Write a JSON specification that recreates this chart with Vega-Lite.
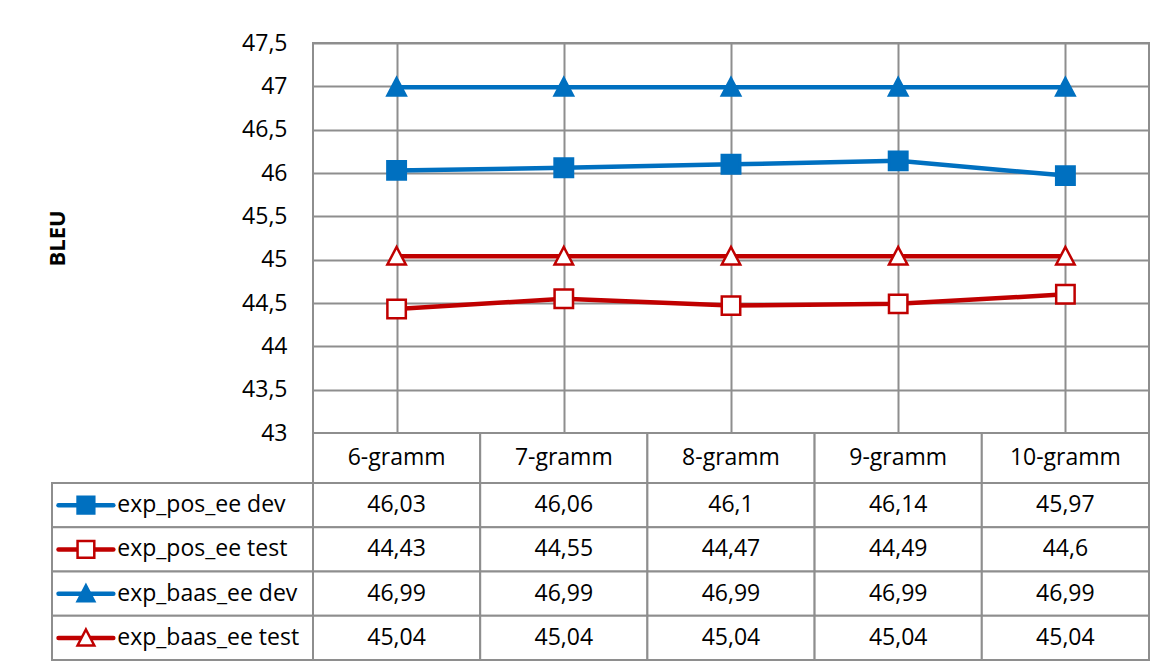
{
  "$schema": "https://vega.github.io/schema/vega-lite/v6.json",
  "padding": {"left": 45, "top": 31, "right": 10, "bottom": 5},
  "background": "white",
  "config": {
    "view": {"stroke": null},
    "locale": {"number": {"decimal": ",", "thousands": ".", "grouping": [3], "currency": ["", " €"]}},
    "text": {"font": "Open Sans", "fontSize": 23, "color": "#000000"}
  },
  "datasets": {
    "vals": [
      {"gram": "6-gramm", "series": "exp_pos_ee dev", "value": 46.03},
      {"gram": "7-gramm", "series": "exp_pos_ee dev", "value": 46.06},
      {"gram": "8-gramm", "series": "exp_pos_ee dev", "value": 46.1},
      {"gram": "9-gramm", "series": "exp_pos_ee dev", "value": 46.14},
      {"gram": "10-gramm", "series": "exp_pos_ee dev", "value": 45.97},
      {"gram": "6-gramm", "series": "exp_pos_ee test", "value": 44.43},
      {"gram": "7-gramm", "series": "exp_pos_ee test", "value": 44.55},
      {"gram": "8-gramm", "series": "exp_pos_ee test", "value": 44.47},
      {"gram": "9-gramm", "series": "exp_pos_ee test", "value": 44.49},
      {"gram": "10-gramm", "series": "exp_pos_ee test", "value": 44.6},
      {"gram": "6-gramm", "series": "exp_baas_ee dev", "value": 46.99},
      {"gram": "7-gramm", "series": "exp_baas_ee dev", "value": 46.99},
      {"gram": "8-gramm", "series": "exp_baas_ee dev", "value": 46.99},
      {"gram": "9-gramm", "series": "exp_baas_ee dev", "value": 46.99},
      {"gram": "10-gramm", "series": "exp_baas_ee dev", "value": 46.99},
      {"gram": "6-gramm", "series": "exp_baas_ee test", "value": 45.04},
      {"gram": "7-gramm", "series": "exp_baas_ee test", "value": 45.04},
      {"gram": "8-gramm", "series": "exp_baas_ee test", "value": 45.04},
      {"gram": "9-gramm", "series": "exp_baas_ee test", "value": 45.04},
      {"gram": "10-gramm", "series": "exp_baas_ee test", "value": 45.04}
    ],
    "series": [
      {"series": "exp_pos_ee dev"},
      {"series": "exp_pos_ee test"},
      {"series": "exp_baas_ee dev"},
      {"series": "exp_baas_ee test"}
    ],
    "grams": [
      {"gram": "6-gramm"}, {"gram": "7-gramm"}, {"gram": "8-gramm"}, {"gram": "9-gramm"}, {"gram": "10-gramm"}
    ]
  },
  "columns": 2,
  "spacing": 0,
  "bounds": "flush",
  "concat": [
    {
      "width": 261, "height": 390,
      "data": {"values": [{}]},
      "mark": {"type": "text"},
      "encoding": {"text": {"value": ""}}
    },
    {
      "width": 836, "height": 390,
      "view": {"stroke": "#8e8e8e", "strokeWidth": 2},
      "data": {"name": "vals"},
      "encoding": {
        "x": {"field": "gram", "type": "nominal",
              "scale": {"domain": ["6-gramm", "7-gramm", "8-gramm", "9-gramm", "10-gramm"], "paddingInner": 0, "paddingOuter": 0},
              "axis": {"bandPosition": 0, "grid": true, "gridColor": "#8e8e8e", "gridWidth": 2, "labels": false, "ticks": false, "domain": false, "title": null}},
        "y": {"field": "value", "type": "quantitative",
              "scale": {"domain": [43, 47.5], "nice": false, "zero": false},
              "axis": {"values": [43, 43.5, 44, 44.5, 45, 45.5, 46, 46.5, 47, 47.5], "format": "~g",
                       "grid": true, "gridColor": "#8e8e8e", "gridWidth": 2, "ticks": false, "domain": false,
                       "labelFont": "Open Sans", "labelFontSize": 23, "labelColor": "#000000", "labelPadding": 26,
                       "title": "BLEU", "titleFont": "Open Sans", "titleFontSize": 22, "titleFontWeight": "bold", "titleColor": "#000000", "titlePadding": 172}},
        "stroke": {"field": "series", "type": "nominal",
                   "scale": {"domain": ["exp_pos_ee dev", "exp_pos_ee test", "exp_baas_ee dev", "exp_baas_ee test"], "range": ["#0070C0", "#C00000", "#0070C0", "#C00000"]},
                   "legend": null}
      },
      "layer": [
        {"mark": {"type": "line", "strokeWidth": 4.5}, "encoding": {"order": {"value": null}}},
        {"mark": {"type": "point", "opacity": 1, "fillOpacity": 1, "strokeWidth": 2.5, "size": 340},
         "encoding": {
           "shape": {"field": "series", "type": "nominal",
                     "scale": {"domain": ["exp_pos_ee dev", "exp_pos_ee test", "exp_baas_ee dev", "exp_baas_ee test"], "range": ["square", "square", "M0,-1L1,0.9L-1,0.9Z", "M0,-1L1,0.9L-1,0.9Z"]},
                     "legend": null},
           "fill": {"field": "series", "type": "nominal",
                    "scale": {"domain": ["exp_pos_ee dev", "exp_pos_ee test", "exp_baas_ee dev", "exp_baas_ee test"], "range": ["#0070C0", "#ffffff", "#0070C0", "#ffffff"]},
                    "legend": null}
         }}
      ]
    },
    {
      "width": 261, "height": 50,
      "data": {"values": [{}]},
      "mark": {"type": "text"},
      "encoding": {"text": {"value": ""}}
    },
    {
      "width": 836, "height": 50,
      "data": {"name": "grams"},
      "encoding": {
        "x": {"field": "gram", "type": "nominal",
              "scale": {"domain": ["6-gramm", "7-gramm", "8-gramm", "9-gramm", "10-gramm"], "paddingInner": 0, "paddingOuter": 0},
              "axis": null}
      },
      "layer": [
        {"mark": {"type": "rect", "fill": "#ffffff", "stroke": "#8e8e8e", "strokeWidth": 2}},
        {"mark": {"type": "text", "font": "Open Sans", "fontSize": 23, "color": "#000000"}, "encoding": {"text": {"field": "gram"}}}
      ]
    },
    {
      "width": 261, "height": 177,
      "data": {"name": "series"},
      "encoding": {
        "y": {"field": "series", "type": "nominal",
              "scale": {"domain": ["exp_pos_ee dev", "exp_pos_ee test", "exp_baas_ee dev", "exp_baas_ee test"], "paddingInner": 0, "paddingOuter": 0},
              "axis": null}
      },
      "layer": [
        {"mark": {"type": "rect", "fill": "#ffffff", "stroke": "#8e8e8e", "strokeWidth": 2}},
        {"mark": {"type": "rule", "strokeWidth": 4.5, "strokeCap": "round"},
         "encoding": {
           "x": {"datum": 0.025, "type": "quantitative", "scale": {"domain": [0, 1], "nice": false, "zero": false}, "axis": null},
           "x2": {"datum": 0.235},
           "stroke": {"field": "series", "type": "nominal",
                      "scale": {"domain": ["exp_pos_ee dev", "exp_pos_ee test", "exp_baas_ee dev", "exp_baas_ee test"], "range": ["#0070C0", "#C00000", "#0070C0", "#C00000"]},
                      "legend": null}
         }},
        {"mark": {"type": "point", "opacity": 1, "fillOpacity": 1, "strokeWidth": 2.5, "size": 280},
         "encoding": {
           "x": {"datum": 0.13, "type": "quantitative"},
           "stroke": {"field": "series", "type": "nominal",
                      "scale": {"domain": ["exp_pos_ee dev", "exp_pos_ee test", "exp_baas_ee dev", "exp_baas_ee test"], "range": ["#0070C0", "#C00000", "#0070C0", "#C00000"]},
                      "legend": null},
           "shape": {"field": "series", "type": "nominal",
                     "scale": {"domain": ["exp_pos_ee dev", "exp_pos_ee test", "exp_baas_ee dev", "exp_baas_ee test"], "range": ["square", "square", "M0,-1L1,0.9L-1,0.9Z", "M0,-1L1,0.9L-1,0.9Z"]},
                     "legend": null},
           "fill": {"field": "series", "type": "nominal",
                    "scale": {"domain": ["exp_pos_ee dev", "exp_pos_ee test", "exp_baas_ee dev", "exp_baas_ee test"], "range": ["#0070C0", "#ffffff", "#0070C0", "#ffffff"]},
                    "legend": null}
         }},
        {"mark": {"type": "text", "align": "left", "font": "Open Sans", "fontSize": 23, "color": "#000000"},
         "encoding": {
           "x": {"datum": 0.25, "type": "quantitative"},
           "text": {"field": "series"}
         }}
      ]
    },
    {
      "width": 836, "height": 177,
      "data": {"name": "vals"},
      "encoding": {
        "x": {"field": "gram", "type": "nominal",
              "scale": {"domain": ["6-gramm", "7-gramm", "8-gramm", "9-gramm", "10-gramm"], "paddingInner": 0, "paddingOuter": 0},
              "axis": null},
        "y": {"field": "series", "type": "nominal",
              "scale": {"domain": ["exp_pos_ee dev", "exp_pos_ee test", "exp_baas_ee dev", "exp_baas_ee test"], "paddingInner": 0, "paddingOuter": 0},
              "axis": null}
      },
      "layer": [
        {"mark": {"type": "rect", "fill": "#ffffff", "stroke": "#8e8e8e", "strokeWidth": 2}},
        {"mark": {"type": "text", "font": "Open Sans", "fontSize": 23, "color": "#000000"},
         "encoding": {"text": {"field": "value", "type": "quantitative", "format": "~g"}}}
      ]
    }
  ]
}
